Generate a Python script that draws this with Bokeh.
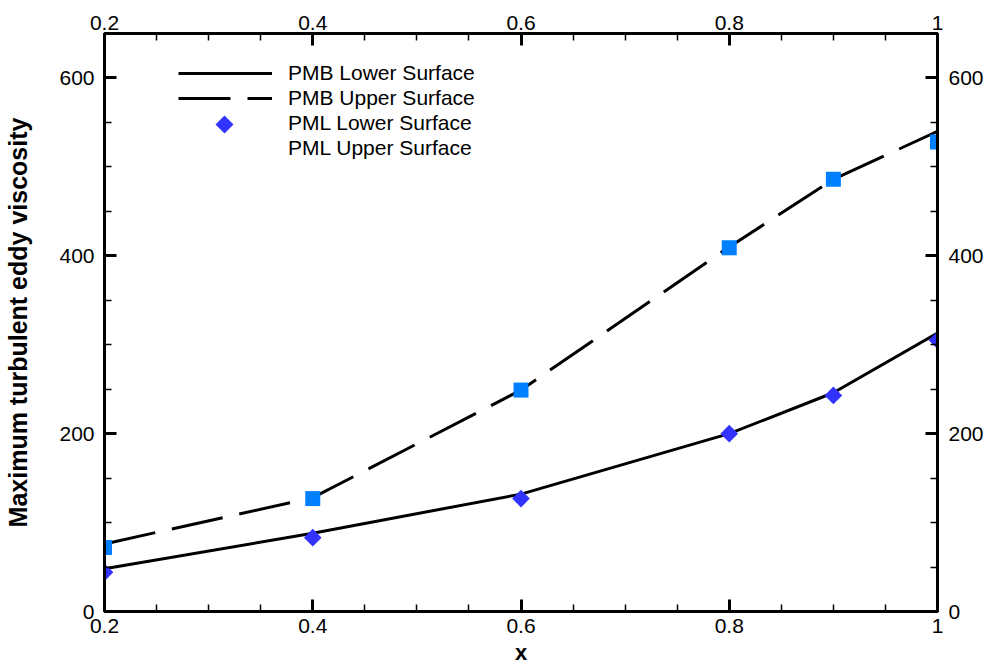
import math
from bokeh.plotting import figure
from bokeh.models import (LinearAxis, FixedTicker, Range1d, Legend, LegendItem,
                          CustomJSTickFormatter, PolyAnnotation)
from bokeh.embed import file_html
from bokeh.resources import INLINE

# ---- data ----
x = [0.2, 0.4, 0.6, 0.8, 0.9, 1.0]
pmb_lower = [48, 88, 132, 200, 246, 313]
pmb_upper = [76, 128, 249, 410, 486, 540]
pml_lower = [44, 83, 127, 200, 243, 305]
pml_upper = [72, 127, 249, 409, 486, 528]

x_ticks = [0.2, 0.4, 0.6, 0.8, 1.0]
x_minor = [0.25, 0.3, 0.35, 0.45, 0.5, 0.55, 0.65, 0.7, 0.75, 0.85, 0.9, 0.95]
y_ticks = [0, 200, 400, 600]
y_minor = [50, 100, 150, 250, 300, 350, 450, 500, 550, 650]

FONT = "Liberation Sans"

p = figure(width=987, height=668, x_range=Range1d(0.2, 1.0), y_range=Range1d(0, 650),
           output_backend="svg", toolbar_location=None,
           min_border_left=104, min_border_right=50, min_border_top=33, min_border_bottom=57)
p.grid.visible = False
p.outline_line_color = "black"
p.outline_line_width = 3
p.background_fill_color = "white"
p.border_fill_color = "white"

xfmt = CustomJSTickFormatter(code="return String(Math.round(tick*10)/10);")


def style_axis(ax, standoff):
    ax.axis_line_width = 3
    ax.axis_line_color = "black"
    ax.major_tick_in = 12
    ax.major_tick_out = 0
    ax.minor_tick_in = 7
    ax.minor_tick_out = 0
    ax.major_tick_line_width = 3
    ax.minor_tick_line_width = 1.5
    ax.major_label_text_font = FONT
    ax.major_label_text_font_size = "21px"
    ax.major_label_text_color = "black"
    ax.major_label_standoff = standoff
    ax.axis_label_text_font = FONT
    ax.axis_label_text_font_style = "bold"
    ax.axis_label_text_color = "black"


xb = p.xaxis[0]
xb.ticker = FixedTicker(ticks=x_ticks, minor_ticks=x_minor)
xb.formatter = xfmt
xb.axis_label = "x"
style_axis(xb, 7)
xb.axis_label_text_font_size = "22px"
xb.axis_label_standoff = 4

yl = p.yaxis[0]
yl.ticker = FixedTicker(ticks=y_ticks, minor_ticks=y_minor)
yl.axis_label = "Maximum turbulent eddy viscosity"
style_axis(yl, 10)
yl.axis_label_text_font_size = "25px"
yl.axis_label_standoff = 24

xt = LinearAxis(ticker=FixedTicker(ticks=x_ticks, minor_ticks=x_minor), formatter=xfmt)
style_axis(xt, 4)
p.add_layout(xt, "above")

yr = LinearAxis(ticker=FixedTicker(ticks=y_ticks, minor_ticks=y_minor))
style_axis(yr, 11)
p.add_layout(yr, "right")

r1 = p.line(x, pmb_lower, line_color="black", line_width=3)
r2 = p.line(x, pmb_upper, line_color="black", line_width=3, line_dash="52 17")
r4 = p.scatter(x, pml_upper, marker="square", size=15, fill_color="#0080FF", line_color=None)
r3 = p.scatter(x, pml_lower, marker="square", angle=math.pi / 4, size=12.5,
               fill_color="#3333FF", line_color=None)
r_dummy = p.scatter([], [], marker="square", fill_alpha=0, line_alpha=0)

legend = Legend(items=[
    LegendItem(label="PMB Lower Surface", renderers=[r1]),
    LegendItem(label="PMB Upper Surface", renderers=[r2]),
    LegendItem(label="PML Lower Surface", renderers=[r_dummy]),
    LegendItem(label="PML Upper Surface", renderers=[r_dummy]),
], location=(74, 451), glyph_width=94, glyph_height=24, spacing=1, label_standoff=16,
    padding=0, margin=0, border_line_alpha=0, background_fill_alpha=0,
    label_text_font=FONT, label_text_font_size="21px", label_text_color="black")
p.add_layout(legend)

# legend symbol for the diamonds (screen units, relative to the plot frame)
cx, cy, hr = 120, 487, 9
p.add_layout(PolyAnnotation(xs=[cx, cx + hr, cx, cx - hr], ys=[cy + hr, cy, cy - hr, cy],
                            xs_units="screen", ys_units="screen",
                            fill_color="#3333FF", fill_alpha=1, line_color=None))

open("out.html", "w").write(file_html(p, INLINE))
